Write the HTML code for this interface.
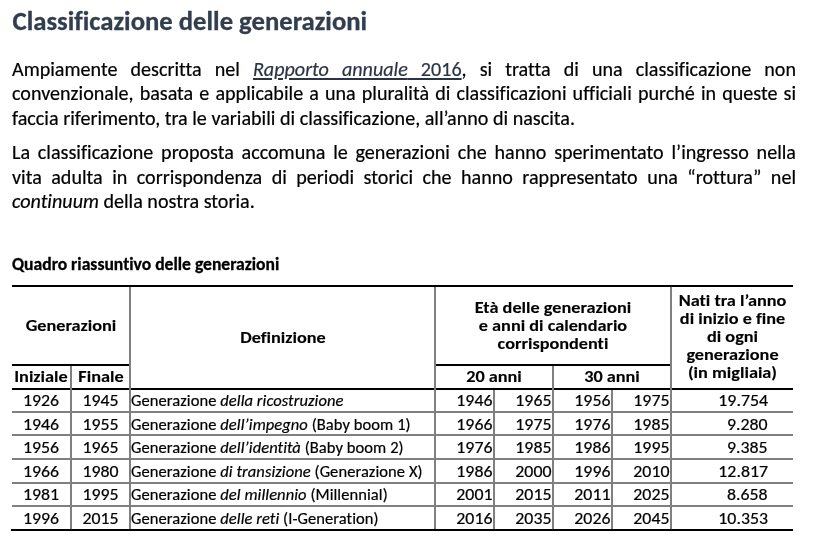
<!DOCTYPE html>
<html lang="it">
<head>
<meta charset="utf-8">
<title>Classificazione delle generazioni</title>
<style>
html,body{margin:0;padding:0;background:#fff}
body{width:828px;height:543px;position:relative;overflow:hidden;font-family:Carlito,"Liberation Sans",sans-serif;color:#000;font-variant-ligatures:none;font-kerning:normal}
h1{position:absolute;-webkit-text-stroke-width:0.3px;left:12.6px;top:4.9px;margin:0;font-size:26.7px;line-height:32px;font-weight:700;color:#323e4f;white-space:nowrap}
.ln{position:absolute;-webkit-text-stroke-width:0.2px;left:12px;width:784px;font-size:20.1px;line-height:24px;height:24px;white-space:nowrap}
.j{text-align:justify;text-align-last:justify}
.lk{color:#2a3446;text-decoration:underline;text-decoration-thickness:1.5px;text-underline-offset:2px}
h2{position:absolute;-webkit-text-stroke-width:0.3px;left:12px;top:252.5px;margin:0;font-size:17.6px;line-height:22px;font-weight:700;white-space:nowrap}
.hl{position:absolute;background:#000;height:2px}
.gl{position:absolute;background:#808080;height:2px}
.vl{position:absolute;background:#808080;width:2px}
.t{position:absolute;-webkit-text-stroke-width:0.2px;font-size:16.5px;line-height:18px;white-space:nowrap;letter-spacing:0.07px}
.b{font-weight:700;-webkit-text-stroke-width:0.12px;letter-spacing:0;transform:scaleX(1.105)}
.n{letter-spacing:0;transform:scaleX(1.08)}
.n.r{transform-origin:100% 50%}
.c{text-align:center}
.r{text-align:right}
</style>
</head>
<body>
<h1>Classificazione delle generazioni</h1>
<div class="ln j" style="top:56.96px">Ampiamente descritta nel <span class="lk"><i>Rapporto annuale</i> 2016</span>, si tratta di una classificazione non</div>
<div class="ln j" style="top:81.36px">convenzionale, basata e applicabile a una pluralità di classificazioni ufficiali purché in queste si</div>
<div class="ln " style="top:105.76px">faccia riferimento, tra le variabili di classificazione, all’anno di nascita.</div>
<div class="ln j" style="top:139.96px">La classificazione proposta accomuna le generazioni che hanno sperimentato l’ingresso nella</div>
<div class="ln j" style="top:165.2px">vita adulta in corrispondenza di periodi storici che hanno rappresentato una “rottura” nel</div>
<div class="ln " style="top:188.76px"><i>continuum</i> della nostra storia.</div>
<h2>Quadro riassuntivo delle generazioni</h2>
<div class="hl" style="left:12px;top:285px;width:781px"></div>
<div class="hl" style="left:12px;top:364px;width:118px"></div>
<div class="hl" style="left:436px;top:364px;width:234px"></div>
<div class="hl" style="left:12px;top:388px;width:781px"></div>
<div class="gl" style="left:12px;top:411px;width:781px"></div>
<div class="gl" style="left:12px;top:434px;width:781px"></div>
<div class="gl" style="left:12px;top:458px;width:781px"></div>
<div class="gl" style="left:12px;top:482px;width:781px"></div>
<div class="gl" style="left:12px;top:505px;width:781px"></div>
<div class="hl" style="left:11px;top:529px;width:782px"></div>
<div class="vl" style="left:129px;top:287px;height:242px"></div>
<div class="vl" style="left:434px;top:287px;height:242px"></div>
<div class="vl" style="left:670px;top:287px;height:242px"></div>
<div class="vl" style="left:70px;top:366px;height:163px"></div>
<div class="vl" style="left:552px;top:366px;height:163px"></div>
<div class="vl" style="left:493px;top:390px;height:139px"></div>
<div class="vl" style="left:611px;top:390px;height:139px"></div>
<div class="t b c" style="left:12px;width:118px;top:316.16px">Generazioni</div>
<div class="t b c" style="left:131px;width:304px;top:328.06px">Definizione</div>
<div class="t b c" style="left:436px;width:234px;top:298.16px">Età delle generazioni</div>
<div class="t b c" style="left:436px;width:234px;top:315.96px">e anni di calendario</div>
<div class="t b c" style="left:436px;width:234px;top:333.76px">corrispondenti</div>
<div class="t b c" style="left:672px;width:121px;top:290.66px">Nati tra l’anno</div>
<div class="t b c" style="left:672px;width:121px;top:308.76px">di inizio e fine</div>
<div class="t b c" style="left:672px;width:121px;top:326.86px">di ogni</div>
<div class="t b c" style="left:672px;width:121px;top:344.96px">generazione</div>
<div class="t b c" style="left:672px;width:121px;top:363.06px">(in migliaia)</div>
<div class="t b c" style="left:12px;width:58px;top:367.16px">Iniziale</div>
<div class="t b c" style="left:72px;width:58px;top:367.16px">Finale</div>
<div class="t b c" style="left:436px;width:116px;top:367.46px">20 anni</div>
<div class="t b c" style="left:554px;width:116px;top:367.46px">30 anni</div>
<div class="t n c" style="left:12.0px;width:58px;top:391.41px">1926</div>
<div class="t n c" style="left:72.0px;width:57px;top:391.41px">1945</div>
<div class="t" style="left:131px;top:391.41px">Generazione <i>della ricostruzione</i></div>
<div class="t n r" style="right:335.5px;top:391.41px">1946</div>
<div class="t n r" style="right:276.5px;top:391.41px">1965</div>
<div class="t n r" style="right:217.5px;top:391.41px">1956</div>
<div class="t n r" style="right:158.5px;top:391.41px">1975</div>
<div class="t n r" style="right:60.5px;top:391.41px">19.754</div>
<div class="t n c" style="left:12.0px;width:58px;top:414.86px">1946</div>
<div class="t n c" style="left:72.0px;width:57px;top:414.86px">1955</div>
<div class="t" style="left:131px;top:414.86px">Generazione <i>dell’impegno</i> (Baby boom 1)</div>
<div class="t n r" style="right:335.5px;top:414.86px">1966</div>
<div class="t n r" style="right:276.5px;top:414.86px">1975</div>
<div class="t n r" style="right:217.5px;top:414.86px">1976</div>
<div class="t n r" style="right:158.5px;top:414.86px">1985</div>
<div class="t n r" style="right:60.5px;top:414.86px">9.280</div>
<div class="t n c" style="left:12.0px;width:58px;top:438.31px">1956</div>
<div class="t n c" style="left:72.0px;width:57px;top:438.31px">1965</div>
<div class="t" style="left:131px;top:438.31px">Generazione <i>dell’identità</i> (Baby boom 2)</div>
<div class="t n r" style="right:335.5px;top:438.31px">1976</div>
<div class="t n r" style="right:276.5px;top:438.31px">1985</div>
<div class="t n r" style="right:217.5px;top:438.31px">1986</div>
<div class="t n r" style="right:158.5px;top:438.31px">1995</div>
<div class="t n r" style="right:60.5px;top:438.31px">9.385</div>
<div class="t n c" style="left:12.0px;width:58px;top:461.76px">1966</div>
<div class="t n c" style="left:72.0px;width:57px;top:461.76px">1980</div>
<div class="t" style="left:131px;top:461.76px">Generazione <i>di transizione</i> (Generazione X)</div>
<div class="t n r" style="right:335.5px;top:461.76px">1986</div>
<div class="t n r" style="right:276.5px;top:461.76px">2000</div>
<div class="t n r" style="right:217.5px;top:461.76px">1996</div>
<div class="t n r" style="right:158.5px;top:461.76px">2010</div>
<div class="t n r" style="right:60.5px;top:461.76px">12.817</div>
<div class="t n c" style="left:12.0px;width:58px;top:485.21px">1981</div>
<div class="t n c" style="left:72.0px;width:57px;top:485.21px">1995</div>
<div class="t" style="left:131px;top:485.21px">Generazione <i>del millennio</i> (Millennial)</div>
<div class="t n r" style="right:335.5px;top:485.21px">2001</div>
<div class="t n r" style="right:276.5px;top:485.21px">2015</div>
<div class="t n r" style="right:217.5px;top:485.21px">2011</div>
<div class="t n r" style="right:158.5px;top:485.21px">2025</div>
<div class="t n r" style="right:60.5px;top:485.21px">8.658</div>
<div class="t n c" style="left:12.0px;width:58px;top:508.66px">1996</div>
<div class="t n c" style="left:72.0px;width:57px;top:508.66px">2015</div>
<div class="t" style="left:131px;top:508.66px">Generazione <i>delle reti</i> (I-Generation)</div>
<div class="t n r" style="right:335.5px;top:508.66px">2016</div>
<div class="t n r" style="right:276.5px;top:508.66px">2035</div>
<div class="t n r" style="right:217.5px;top:508.66px">2026</div>
<div class="t n r" style="right:158.5px;top:508.66px">2045</div>
<div class="t n r" style="right:60.5px;top:508.66px">10.353</div>
<script>
(function(){
var W=[354.5,690,763.7,563,751.8,725.3,242.7,267.3,90.6,85.6,156.6,148.4,110.8,107.7,105.3,51.1,92.2,89.1,53.5,45.3,55.7,55.7,36.1,36.1,212.4,36.1,36.1,36.1,36.1,49.7,36.1,36.1,279.7,36.1,36.1,36.1,36.1,40.6,36.1,36.1,272.7,36.1,36.1,36.1,36.1,40.6,36.1,36.1,291.6,36.1,36.1,36.1,36.1,49.7,36.1,36.1,256.7,36.1,36.1,36.1,36.1,40.6,36.1,36.1,247.6,36.1,36.1,36.1,36.1,49.7];
var t=document.createElement('span');
t.style.cssText='position:absolute;left:-9999px;top:0;visibility:hidden;white-space:nowrap;font-size:20px;font-family:monospace';
t.textContent='mmmmiiiillllwwww';document.body.appendChild(t);
var a=t.offsetWidth;t.style.fontFamily='Carlito,monospace';var c=t.offsetWidth;t.parentNode.removeChild(t);
if(a!==c)return;
var els=document.querySelectorAll('h1,h2,.ln,.t');
for(var i=0;i<els.length&&i<W.length;i++){
 var el=els[i];el.style.textAlignLast='left';var r=document.createRange();r.selectNodeContents(el);
 var w=r.getBoundingClientRect().width;el.style.textAlignLast='';
 if(w>0&&Math.abs(w-W[i])>0.5){var fs=parseFloat(getComputedStyle(el).fontSize);el.style.fontSize=(fs*W[i]/w).toFixed(2)+'px';}
}
})();
</script>
</body>
</html>
